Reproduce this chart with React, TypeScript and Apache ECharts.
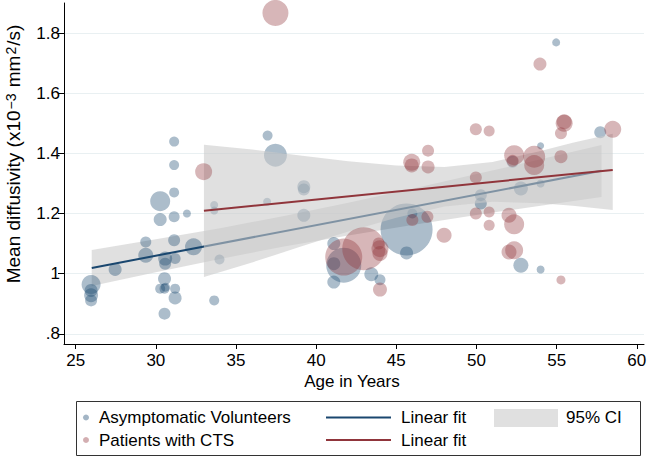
import React, { useEffect, useRef } from "react";
import * as echarts from "echarts";

// ---------- data ----------
const xTicks = [25, 30, 35, 40, 45, 50, 55, 60];
const yTicks = [0.8, 1, 1.2, 1.4, 1.6, 1.8];

// Asymptomatic volunteers: [age, mean diffusivity, bubble weight]
const volunteers: number[][] = [
  [25.96, 0.964, 19], [25.96, 0.944, 13], [25.96, 0.928, 14], [25.96, 0.911, 12],
  [27.46, 1.014, 13], [29.37, 1.105, 11], [29.37, 1.061, 15], [30.27, 1.241, 20],
  [30.27, 1.18, 13], [31.14, 1.439, 10], [31.14, 1.361, 10], [31.14, 1.27, 10],
  [31.14, 1.189, 11], [31.94, 1.2, 8], [31.14, 1.111, 12], [32.35, 1.089, 17],
  [30.58, 1.05, 14], [30.58, 1.033, 12], [31.2, 1.05, 11], [30.54, 0.983, 13],
  [30.27, 0.95, 10], [30.54, 0.95, 10], [30.6, 0.955, 9], [31.2, 0.95, 10],
  [31.2, 0.919, 13], [30.54, 0.867, 12], [33.64, 0.911, 10], [33.64, 1.228, 8],
  [33.64, 1.21, 8], [33.97, 1.047, 10], [36.97, 1.459, 10], [37.46, 1.394, 23],
  [36.94, 1.239, 8], [39.23, 1.289, 13], [39.23, 1.28, 12], [39.23, 1.194, 13],
  [41.1, 1.1, 13], [41.1, 1.033, 13], [41.1, 0.972, 13], [41.72, 1.028, 35],
  [43.44, 0.998, 14], [43.98, 0.98, 11], [45.64, 1.147, 52], [45.64, 1.069, 13],
  [46.0, 1.2, 10], [50.27, 1.261, 12], [50.27, 1.233, 12], [52.25, 1.372, 12],
  [52.77, 1.283, 14], [52.77, 1.028, 15], [54.0, 1.425, 7], [54.0, 1.3, 8],
  [54.0, 1.014, 8], [54.97, 1.769, 8], [57.72, 1.47, 12],
];

// Patients with CTS: [age, mean diffusivity, bubble weight]
const patients: number[][] = [
  [32.98, 1.339, 17], [37.46, 1.867, 26], [41.72, 1.055, 37], [42.97, 1.083, 43],
  [43.98, 1.083, 17], [43.98, 1.067, 15], [43.9, 1.1, 12], [43.98, 0.947, 14],
  [45.96, 1.37, 17], [45.96, 1.36, 14], [46.98, 1.409, 12], [46.98, 1.355, 13],
  [46.0, 1.178, 12], [46.94, 1.189, 12], [47.98, 1.128, 15], [49.96, 1.48, 12],
  [50.79, 1.474, 11], [49.96, 1.32, 12], [49.96, 1.2, 12], [50.79, 1.205, 11],
  [50.79, 1.161, 11], [52.03, 1.194, 15], [52.35, 1.164, 20], [52.03, 1.072, 15],
  [52.35, 1.078, 18], [52.35, 1.394, 20], [52.25, 1.375, 12], [53.6, 1.389, 22],
  [53.6, 1.361, 20], [53.96, 1.697, 13], [55.27, 1.389, 13], [55.47, 1.5, 17],
  [55.47, 1.505, 15], [55.27, 1.467, 12], [55.27, 0.979, 9], [58.5, 1.48, 17],
];

// Linear fits (end points)
const volunteersFit = [[26, 1.019], [57.8, 1.342]];
const patientsFit = [[33, 1.209], [58.5, 1.345]];

// 95% CI bands: [age, lower, upper]
const volunteersCI: number[][] = [
  [26, 0.959, 1.079], [30, 1.005, 1.114], [34, 1.049, 1.151], [38, 1.09, 1.192],
  [42, 1.127, 1.236], [46, 1.162, 1.282], [50, 1.195, 1.331], [54, 1.226, 1.38],
  [57.8, 1.255, 1.428],
];
const patientsCI: number[][] = [
  [33, 0.989, 1.429], [36, 1.037, 1.413], [39, 1.089, 1.393], [42, 1.14, 1.374],
  [45, 1.186, 1.36], [48, 1.223, 1.355], [51, 1.239, 1.371], [54, 1.234, 1.408],
  [56, 1.226, 1.435], [58.5, 1.212, 1.465],
];

// ---------- styling ----------
const FONT = "'Liberation Sans', Arial, Helvetica, sans-serif";
const NAVY = "#1a476f";
const MAROON = "#90353b";
const BLUE_PT = "rgba(26,71,111,0.45)";
const RED_PT = "rgba(144,53,59,0.45)";
const CI_FILL = "rgba(202,202,202,0.58)";

function bandSeries(data: number[][], z: number) {
  return {
    type: "custom",
    z,
    silent: true,
    data,
    encode: { x: 0, y: [1, 2] },
    renderItem: (params: any, api: any) => {
      if (params.dataIndex !== 0) return null;
      const pts: number[][] = [];
      for (let i = 0; i < data.length; i++) pts.push(api.coord([data[i][0], data[i][2]]));
      for (let i = data.length - 1; i >= 0; i--) pts.push(api.coord([data[i][0], data[i][1]]));
      return { type: "polygon", shape: { points: pts }, style: { fill: CI_FILL } };
    },
  };
}

function fitSeries(data: number[][], color: string, z: number) {
  return {
    type: "line",
    z,
    data,
    showSymbol: false,
    symbol: "none",
    silent: true,
    lineStyle: { color, width: 2 },
  };
}

function scatterSeries(data: number[][], color: string, z: number) {
  return {
    type: "scatter",
    z,
    data,
    symbolSize: (d: number[]) => d[2],
    itemStyle: { color, borderWidth: 0 },
    silent: true,
  };
}

export default function App() {
  const ref = useRef<HTMLDivElement>(null);
  useEffect(() => {
    if (!ref.current) return;
    const chart = echarts.init(ref.current, null, { renderer: "svg" });
    const txt = { fontFamily: FONT, fontSize: 17, fill: "#000" };
    chart.setOption({
      animation: false,
      backgroundColor: "#fff",
      textStyle: { fontFamily: FONT },
      grid: { left: 64, right: 3, top: 3, bottom: 114, outerBoundsMode: "none", containLabel: false },
      xAxis: {
        type: "value",
        min: 24.27,
        max: 60.45,
        axisLine: { show: true, lineStyle: { color: "#000", width: 1 } },
        axisTick: { show: true, length: 5, customValues: xTicks, lineStyle: { color: "#000" } },
        axisLabel: { customValues: xTicks, color: "#000", fontSize: 17, fontFamily: FONT, margin: 8 },
        splitLine: { show: false },
      },
      yAxis: {
        type: "value",
        min: 0.766,
        max: 1.9,
        axisLine: { show: true, lineStyle: { color: "#000", width: 1 } },
        axisTick: { show: true, length: 6, customValues: yTicks, lineStyle: { color: "#000" } },
        axisLabel: {
          customValues: yTicks,
          color: "#000",
          fontSize: 17,
          fontFamily: FONT,
          margin: 4,
          formatter: (v: number) => (v < 1 ? String(v).replace(/^0/, "") : String(v)),
        },
        splitLine: { show: true, lineStyle: { color: "#e9f0f2", width: 1 } },
      },
      series: [
        bandSeries(volunteersCI, 1),
        fitSeries(volunteersFit, NAVY, 2),
        scatterSeries(volunteers, BLUE_PT, 3),
        bandSeries(patientsCI, 4),
        fitSeries(patientsFit, MAROON, 5),
        scatterSeries(patients, RED_PT, 6),
      ],
      graphic: [
        {
          type: "text", x: 13, y: 154, rotation: Math.PI / 2,
          style: {
            text: "Mean diffusivity (x10{sup|−3} mm{sup|2}/s)",
            fontFamily: FONT, fontSize: 19, fill: "#000",
            align: "center", verticalAlign: "middle",
            rich: {
              sup: { fontFamily: FONT, fontSize: 14, fill: "#000", verticalAlign: "top", padding: [0, 1, 0, 1] },
            },
          },
        },
        {
          type: "text", x: 352, y: 381,
          style: { ...txt, text: "Age in Years", align: "center", verticalAlign: "middle" },
        },
        {
          type: "rect", shape: { x: 76.5, y: 401.5, width: 564, height: 54 },
          style: { fill: "#fff", stroke: "#333", lineWidth: 1 },
        },
        { type: "circle", shape: { cx: 86, cy: 417.5, r: 3 }, style: { fill: "rgba(26,71,111,0.4)" } },
        { type: "circle", shape: { cx: 86, cy: 440, r: 3 }, style: { fill: "rgba(144,53,59,0.4)" } },
        { type: "text", x: 99, y: 417.5, style: { ...txt, text: "Asymptomatic Volunteers", verticalAlign: "middle" } },
        { type: "text", x: 99, y: 440, style: { ...txt, text: "Patients with CTS", verticalAlign: "middle" } },
        { type: "line", shape: { x1: 326, y1: 417.5, x2: 391, y2: 417.5 }, style: { stroke: NAVY, lineWidth: 2 } },
        { type: "line", shape: { x1: 326, y1: 440, x2: 391, y2: 440 }, style: { stroke: MAROON, lineWidth: 2 } },
        { type: "text", x: 401, y: 417.5, style: { ...txt, text: "Linear fit", verticalAlign: "middle" } },
        { type: "text", x: 401, y: 440, style: { ...txt, text: "Linear fit", verticalAlign: "middle" } },
        { type: "rect", shape: { x: 494, y: 409, width: 64, height: 18 }, style: { fill: CI_FILL } },
        { type: "text", x: 566, y: 417.5, style: { ...txt, text: "95% CI", verticalAlign: "middle" } },
      ],
    });
    return () => chart.dispose();
  }, []);
  return <div ref={ref} style={{ width: 647, height: 458, position: "absolute", left: 0, top: 0 }} />;
}
